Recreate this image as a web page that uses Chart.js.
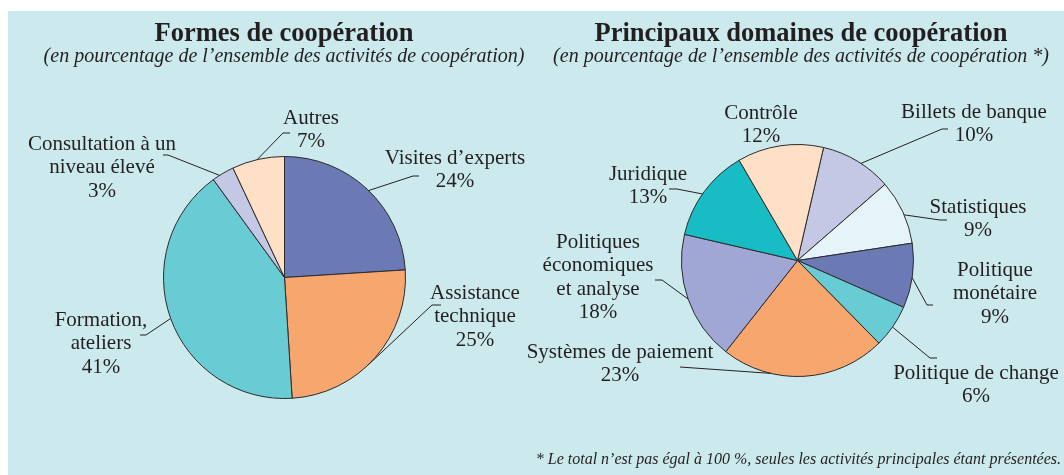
<!DOCTYPE html>
<html lang="fr">
<head>
<meta charset="utf-8">
<script src="https://cdn.jsdelivr.net/npm/chart.js@4.4.1/dist/chart.umd.min.js"></script>
<style>
  body { margin: 0; background: #fff; }
  #wrap { position: relative; width: 1064px; height: 475px; overflow: hidden; }
  #panel { position: absolute; left: 8px; top: 11px; right: 0; bottom: 0; background: #cceaee; }
  canvas { position: absolute; left: 0; top: 0; }
</style>
</head>
<body>
<div id="wrap">
  <div id="panel"></div>
  <canvas id="formes" width="1064" height="475"></canvas>
  <canvas id="domaines" width="1064" height="475"></canvas>
</div>
<script>
// Formes de coopération (labels split into display lines)
var formesLabels = [['Visites d’experts'], ['Assistance', 'technique'], ['Formation,', 'ateliers'],
  ['Consultation à un', 'niveau élevé'], ['Autres']];
var formesValues = [24, 25, 41, 3, 7];
var formesColors = ['#6b7ab5', '#f7a66d', '#69cbd3', '#c5c8e4', '#fee0c7'];

// Principaux domaines de coopération
var domainesLabels = [['Billets de banque'], ['Statistiques'], ['Politique', 'monétaire'], ['Politique de change'],
  ['Systèmes de paiement'], ['Politiques', 'économiques', 'et analyse'], ['Juridique'], ['Contrôle']];
var domainesValues = [10, 9, 9, 6, 23, 18, 13, 12];
var domainesColors = ['#c5c8e4', '#e5f4f8', '#6b7ab5', '#69cbd3', '#f7a66d', '#a0a7d4', '#17bcc5', '#fee0c7'];

var ink = '#231f20';
var serif = '"Liberation Serif", "Times New Roman", serif';

// where each label sits: centre x, first line y, point along the slice edge (0..1), leader elbow and tick end
var formesCallouts = [
  { x: 455, y: 158, at: 0.51, elbow: [413, 176], tick: [419, 176] },
  { x: 475, y: 293, at: 0.56, elbow: [432, 305], tick: [441, 305] },
  { x: 101, y: 320, at: 0.50, elbow: [146, 335], tick: [140, 335] },
  { x: 102, y: 144, at: 0.33, elbow: [168, 155], tick: [163, 155] },
  { x: 311, y: 118, at: 0.48, elbow: [283, 133], tick: [290, 133] }
];
var domainesCallouts = [
  { x: 974, y: 112, at: 0.56, elbow: [942, 129], tick: [948, 129] },
  { x: 978, y: 207, at: 0.55, elbow: [940, 220], tick: [947, 220] },
  { x: 995, y: 270, at: 0.53, elbow: [927, 305], tick: [933, 305] },
  { x: 976, y: 373, at: 0.52, elbow: [930, 358], tick: [937, 358] },
  { x: 620, y: 352, at: 0.70, elbow: [680, 367] },
  { x: 598, y: 242, at: 0.50, elbow: [662, 280], tick: [655, 280] },
  { x: 648, y: 174, at: 0.47, elbow: [677, 189], tick: [669, 189] },
  { x: 761, y: 113 }
];

function callouts(spots, heading) {
  return {
    id: 'callouts',
    afterDatasetsDraw: function (chart) {
      var ctx = chart.ctx;
      var meta = chart.getDatasetMeta(0);
      var values = chart.data.datasets[0].data;
      ctx.save();
      ctx.fillStyle = ink;
      ctx.strokeStyle = ink;
      ctx.lineWidth = 1;
      ctx.font = '21px ' + serif;
      ctx.textAlign = 'center';
      ctx.textBaseline = 'middle';
      spots.forEach(function (c, i) {
        var lines = chart.data.labels[i].concat(values[i] + '%');
        lines.forEach(function (t, k) { ctx.fillText(t, c.x, c.y + k * 23.5); });
        if (c.at == null) return;
        var arc = meta.data[i].getProps(['x', 'y', 'startAngle', 'endAngle', 'outerRadius'], true);
        var a = arc.startAngle + c.at * (arc.endAngle - arc.startAngle);
        ctx.beginPath();
        ctx.moveTo(arc.x + Math.cos(a) * arc.outerRadius, arc.y + Math.sin(a) * arc.outerRadius);
        ctx.lineTo(c.elbow[0], c.elbow[1]);
        if (c.tick) ctx.lineTo(c.tick[0], c.tick[1]);
        ctx.stroke();
      });

      // heading block
      ctx.textBaseline = 'alphabetic';
      ctx.font = 'bold 26.5px ' + serif;
      ctx.fillText(heading.title, heading.x, 40.5);
      ctx.font = 'italic 20px ' + serif;
      ctx.fillText(heading.subtitle, heading.x, 61.5);
      if (heading.note) {
        ctx.textAlign = 'right';
        ctx.font = 'italic 16px ' + serif;
        ctx.fillText(heading.note, 1061, 464);
      }
      ctx.restore();
    }
  };
}

function pieConfig(labels, values, colors, rotation, padding, plugin) {
  return {
    type: 'pie',
    data: {
      labels: labels,
      datasets: [{
        data: values,
        backgroundColor: colors,
        borderColor: '#2b2b2b',
        borderWidth: 1
      }]
    },
    options: {
      responsive: false,
      animation: false,
      events: [],
      rotation: rotation,
      layout: { padding: padding },
      plugins: {
        legend: { display: false },
        tooltip: { enabled: false }
      }
    },
    plugins: [plugin]
  };
}

new Chart(document.getElementById('formes').getContext('2d'),
  pieConfig(formesLabels, formesValues, formesColors, 0,
    { left: 163, right: 658, top: 156, bottom: 76 },
    callouts(formesCallouts, {
      x: 284,
      title: 'Formes de coopération',
      subtitle: '(en pourcentage de l’ensemble des activités de coopération)'
    })));

new Chart(document.getElementById('domaines').getContext('2d'),
  pieConfig(domainesLabels, domainesValues, domainesColors, 13,
    { left: 681, right: 150, top: 144, bottom: 98 },
    callouts(domainesCallouts, {
      x: 801,
      title: 'Principaux domaines de coopération',
      subtitle: '(en pourcentage de l’ensemble des activités de coopération *)',
      note: '* Le total n’est pas égal à 100 %, seules les activités principales étant présentées.'
    })));
</script>
</body>
</html>
